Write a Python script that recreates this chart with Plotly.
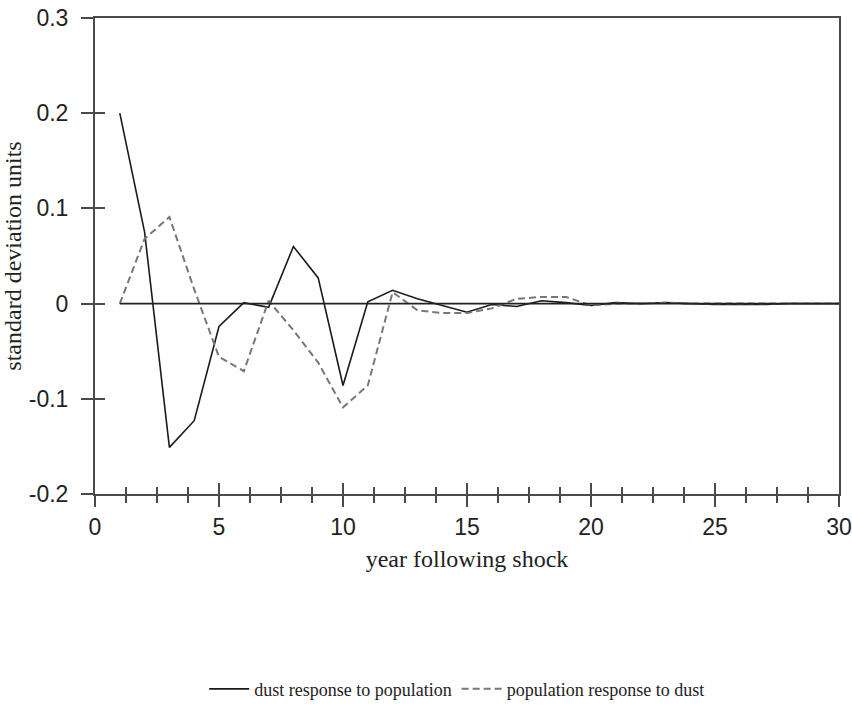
import plotly.graph_objects as go

years = list(range(1, 31))
dust_resp = [0.200, 0.075, -0.151, -0.123, -0.024, 0.001, -0.004, 0.060, 0.027, -0.086,
             0.002, 0.014, 0.005, -0.002, -0.009, -0.001, -0.003, 0.003, 0.001, -0.002,
             0.001, 0.000, 0.001, 0.000, -0.001, -0.001, -0.001, 0.000, 0.000, 0.000]
pop_resp = [0.000, 0.068, 0.091, 0.015, -0.056, -0.071, 0.003, -0.028, -0.062, -0.109,
            -0.086, 0.012, -0.007, -0.010, -0.010, -0.005, 0.005, 0.007, 0.007, -0.002,
            0.000, 0.000, 0.001, 0.000, 0.000, 0.000, 0.000, 0.000, 0.000, 0.000]
zero_line = [0.0] * len(years)

x_ticks = [0, 5, 10, 15, 20, 25, 30]
y_ticks = [-0.2, -0.1, 0, 0.1, 0.2, 0.3]
y_tick_labels = ["-0.2", "-0.1", "0", "0.1", "0.2", "0.3"]

AX = "#4a4a4a"
tickfont = dict(family="Liberation Sans, Arial, sans-serif", size=23, color="#222")
serif = "Liberation Serif, Times New Roman, serif"

fig = go.Figure()
fig.add_trace(go.Scatter(x=years, y=zero_line, mode="lines",
                         line=dict(color="#222", width=1.6), showlegend=False,
                         xaxis="x2", yaxis="y2", hoverinfo="skip"))
fig.add_trace(go.Scatter(x=years, y=dust_resp, mode="lines", name="dust response to population",
                         line=dict(color="#1a1a1a", width=1.6)))
fig.add_trace(go.Scatter(x=years, y=pop_resp, mode="lines", name="population response to dust",
                         line=dict(color="#777777", width=2, dash="7px,4px")))

fig.update_layout(
    width=852, height=709,
    margin=dict(l=95, r=13, t=18, b=215),
    paper_bgcolor="white", plot_bgcolor="white",
    showlegend=True,
    legend=dict(orientation="h", x=0.536, xanchor="center", xref="container",
                y=0.028, yanchor="middle", yref="container",
                font=dict(family=serif, size=18, color="#222"),
                itemwidth=40, tracegroupgap=0),
    xaxis=dict(range=[0, 30], tickvals=x_ticks, ticks="outside", ticklen=11, tickwidth=2,
               tickcolor=AX, showline=True, linecolor=AX, linewidth=2, mirror=True,
               showgrid=False, zeroline=False, tickfont=tickfont, automargin="bottom",
               minor=dict(tick0=0, dtick=1.25, ticks="outside", ticklen=7, tickwidth=2,
                          tickcolor=AX, showgrid=False),
               title=dict(text="year following shock", font=dict(family=serif, size=24, color="#222"),
                          standoff=12)),
    xaxis2=dict(range=[0, 30], overlaying="x", matches="x", tickvals=x_ticks, ticks="inside",
                ticklen=11, tickwidth=2, tickcolor=AX, showline=False, showgrid=False,
                zeroline=False, showticklabels=False,
                minor=dict(tick0=0, dtick=1.25, ticks="inside", ticklen=7, tickwidth=2,
                           tickcolor=AX, showgrid=False)),
    yaxis=dict(range=[-0.2, 0.3], tickvals=y_ticks, ticktext=y_tick_labels, ticks="outside",
               ticklen=12, tickwidth=2, tickcolor=AX, showline=True, linecolor=AX, linewidth=2,
               mirror=True, showgrid=False, zeroline=False, tickfont=tickfont,
               ticklabelstandoff=8, automargin="left",
               title=dict(text="standard deviation units", font=dict(family=serif, size=24, color="#222"),
                          standoff=0)),
    yaxis2=dict(range=[-0.2, 0.3], overlaying="y", matches="y", tickvals=y_ticks[:-1], ticks="inside",
                ticklen=10, tickwidth=2, tickcolor=AX, showline=False, showgrid=False,
                zeroline=False, showticklabels=False),
)

fig.write_html("out.html")
